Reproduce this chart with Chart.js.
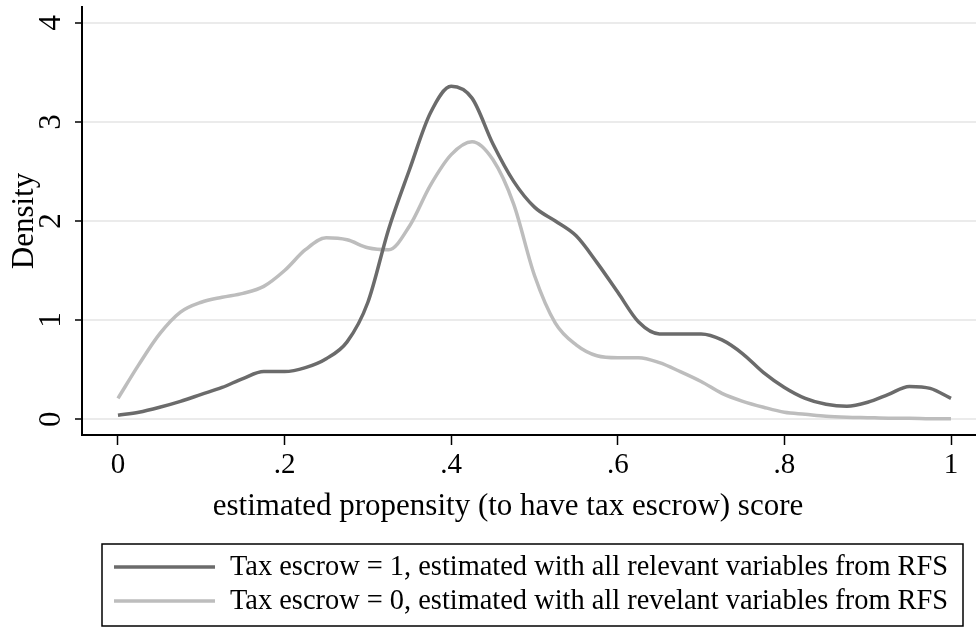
<!DOCTYPE html>
<html>
<head>
<meta charset="utf-8">
<script src="https://cdn.jsdelivr.net/npm/chart.js@4/dist/chart.umd.min.js"></script>
<style>
  html, body { margin: 0; padding: 0; background: #fff; }
  #wrap { width: 976px; height: 629px; position: relative; }
</style>
</head>
<body>
<div id="wrap"><canvas id="densityChart"></canvas></div>
<script>
// propensity score grid (x) and the two kernel density curves
const scoreGrid = [0, 0.025, 0.05, 0.075, 0.1, 0.125, 0.15, 0.175, 0.2, 0.225,
  0.25, 0.275, 0.3, 0.325, 0.35, 0.375, 0.4, 0.425, 0.45, 0.475,
  0.5, 0.525, 0.55, 0.575, 0.6, 0.625, 0.65, 0.675, 0.7, 0.725,
  0.75, 0.775, 0.8, 0.825, 0.85, 0.875, 0.9, 0.925, 0.95, 0.975, 1];

const escrowOne = [0.04, 0.07, 0.12, 0.18, 0.25, 0.32, 0.41, 0.48, 0.48, 0.52,
  0.61, 0.78, 1.18, 1.92, 2.52, 3.09, 3.36, 3.24, 2.78, 2.40,
  2.14, 2.00, 1.85, 1.58, 1.28, 0.98, 0.86, 0.86, 0.86, 0.80,
  0.66, 0.47, 0.32, 0.21, 0.15, 0.13, 0.17, 0.25, 0.33, 0.31, 0.21];

const escrowZero = [0.21, 0.55, 0.86, 1.08, 1.18, 1.23, 1.27, 1.34, 1.50, 1.71,
  1.83, 1.81, 1.73, 1.71, 1.95, 2.36, 2.67, 2.80, 2.62, 2.17,
  1.45, 0.97, 0.75, 0.64, 0.62, 0.62, 0.57, 0.48, 0.38, 0.26,
  0.18, 0.12, 0.07, 0.05, 0.03, 0.02, 0.015, 0.01, 0.01, 0.005, 0.005];

const seriesLabels = [
  'Tax escrow = 1, estimated with all relevant variables from RFS',
  'Tax escrow = 0, estimated with all revelant variables from RFS'
];

const xTitle = 'estimated propensity (to have tax escrow) score';
const xTickValues = [0, 0.2, 0.4, 0.6, 0.8, 1];
const xTickLabels = ['0', '.2', '.4', '.6', '.8', '1'];
const yTickValues = [0, 1, 2, 3, 4];
const yTickLabels = ['0', '1', '2', '3', '4'];

const serif = 'Liberation Serif';

function toPoints(ys) {
  return scoreGrid.map(function(x, i) { return { x: x, y: ys[i] }; });
}

// x title and legend box below the plot, placed like the Stata output
const boxLegend = {
  id: 'boxLegend',
  afterDraw: function(chart) {
    const ctx = chart.ctx;
    ctx.save();
    ctx.fillStyle = '#000';
    ctx.textBaseline = 'middle';
    ctx.textAlign = 'center';
    ctx.font = '31px "' + serif + '"';
    ctx.fillText(xTitle, 508, 507);

    ctx.strokeStyle = '#000';
    ctx.lineWidth = 1.5;
    ctx.strokeRect(102, 544, 861, 82);
    ctx.font = '28.4px "' + serif + '"';
    ctx.textAlign = 'left';
    chart.data.datasets.forEach(function(ds, i) {
      const y = 567 + i * 34;
      ctx.strokeStyle = ds.borderColor;
      ctx.lineWidth = 3.5;
      ctx.beginPath();
      ctx.moveTo(114, y);
      ctx.lineTo(215, y);
      ctx.stroke();
      ctx.fillStyle = '#000';
      ctx.fillText(ds.label, 230, y + 1);
    });
    ctx.restore();
  }
};

new Chart(document.getElementById('densityChart').getContext('2d'), {
  type: 'line',
  data: {
    datasets: [
      {
        label: seriesLabels[0],
        data: toPoints(escrowOne),
        borderColor: '#6b6b6b',
        borderWidth: 3.5,
        pointRadius: 0,
        tension: 0.4,
        cubicInterpolationMode: 'monotone',
        fill: false
      },
      {
        label: seriesLabels[1],
        data: toPoints(escrowZero),
        borderColor: '#bdbdbd',
        borderWidth: 3.5,
        pointRadius: 0,
        tension: 0.4,
        cubicInterpolationMode: 'monotone',
        fill: false
      }
    ]
  },
  options: {
    responsive: true,
    maintainAspectRatio: false,
    animation: false,
    devicePixelRatio: 1,
    layout: { padding: { top: 7, right: 0, bottom: 89, left: 0 } },
    plugins: {
      legend: { display: false },
      tooltip: { enabled: false }
    },
    scales: {
      x: {
        type: 'linear',
        min: -0.0432,
        max: 1.03,
        afterFit: function(scale) {
          scale.height = 105;
          scale.paddingLeft = 0;
          scale.paddingRight = 0;
        },
        afterBuildTicks: function(scale) {
          scale.ticks = xTickValues.map(function(v) { return { value: v }; });
        },
        ticks: {
          color: '#000',
          font: { family: serif, size: 29 },
          padding: 3,
          maxRotation: 0,
          autoSkip: false,
          callback: function(val) {
            const i = xTickValues.indexOf(val);
            return i >= 0 ? xTickLabels[i] : '';
          }
        },
        grid: { drawOnChartArea: false, tickColor: '#000', tickLength: 10, tickWidth: 1.5 },
        border: { color: '#000', width: 2 }
      },
      y: {
        type: 'linear',
        min: -0.16,
        max: 4.16,
        afterFit: function(scale) {
          scale.width = 82;
          scale.paddingTop = 0;
          scale.paddingBottom = 0;
        },
        afterBuildTicks: function(scale) {
          scale.ticks = yTickValues.map(function(v) { return { value: v }; });
        },
        ticks: {
          color: '#000',
          font: { family: serif, size: 31 },
          minRotation: 90,
          maxRotation: 90,
          crossAlign: 'center',
          padding: 15,
          callback: function(val) {
            const i = yTickValues.indexOf(val);
            return i >= 0 ? yTickLabels[i] : '';
          }
        },
        grid: { color: '#ebebeb', lineWidth: 2, tickColor: '#000', tickLength: 7, tickWidth: 1.5 },
        border: { color: '#000', width: 2 },
        title: {
          display: true,
          text: 'Density',
          color: '#000',
          font: { family: serif, size: 31 },
          padding: { top: 6, bottom: 4 }
        }
      }
    }
  },
  plugins: [boxLegend]
});
</script>
</body>
</html>
